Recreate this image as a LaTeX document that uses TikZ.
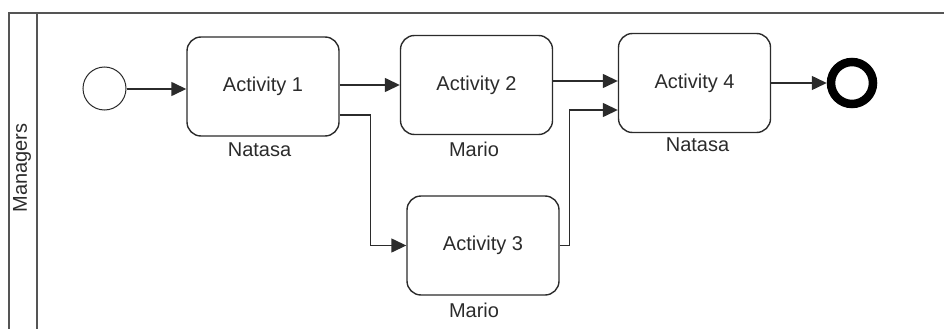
\documentclass[tikz,border=0pt]{standalone}
\usepackage{fontspec}
\setmainfont{Liberation Sans}
\usepackage{xcolor}
\usepackage{tikz}
\usetikzlibrary{arrows.meta}

\definecolor{ink}{HTML}{2B2B2B}
\definecolor{frame}{HTML}{555555}

\begin{document}
\begin{tikzpicture}[x=1pt, y=-1pt, >={Triangle[length=15pt, width=14pt]},
    task/.style={draw=ink, line width=1.4pt, rounded corners=14pt,
        minimum width=152pt, minimum height=99pt, inner sep=0pt,
        font=\fontsize{20}{24}\selectfont, text=ink},
    lbl/.style={font=\fontsize{20}{24}\selectfont, text=ink, inner sep=0pt},
    flow/.style={->, draw=ink, line width=1.4pt}]

    \useasboundingbox (0,0) rectangle (944,329);

    % Pool with its header strip
    \draw[frame, line width=1.8pt] (944,13) -- (9,13) -- (9,329);
    \draw[frame, line width=1.8pt] (37,13) -- (37,329);
    \node[lbl, rotate=90] (pool) at (22,168) {Managers};

    % Events
    \node[circle, draw=ink, line width=1pt, minimum size=43pt, inner sep=0pt] (start) at (104.5,88.5) {};
    \node[circle, draw=black, line width=8.5pt, minimum size=42pt, inner sep=0pt] (end) at (852,83) {};

    % Activities
    \node[task] (A1) at (263,86.5) {Activity 1};
    \node[task] (A2) at (476.5,85) {Activity 2};
    \node[task] (A3) at (483,245.5) {Activity 3};
    \node[task] (A4) at (694.5,83) {Activity 4};

    % Performers
    \node[lbl] (lblA1) at (259.5,150) {Natasa};
    \node[lbl] (lblA2) at (474,149) {Mario};
    \node[lbl] (lblA3) at (474,310) {Mario};
    \node[lbl] (lblA4) at (697.5,145) {Natasa};

    % Sequence flows
    \draw[flow] (start.east |- 0,89) -- (A1.west |- 0,89);
    \draw[flow] (A1.east |- A2) -- (A2.west);
    \draw[flow] ([yshift=-28.5pt]A1.east) -- ++(31,0) |- (A3.west);
    \draw[flow] ([yshift=4pt]A2.east) -- ([yshift=2pt]A4.west);
    \draw[flow] (A3.east) -- ++(10,0) |- ([yshift=-27pt]A4.west);
    \draw[flow] (A4.east) -- (end.west);

\end{tikzpicture}
\end{document}
